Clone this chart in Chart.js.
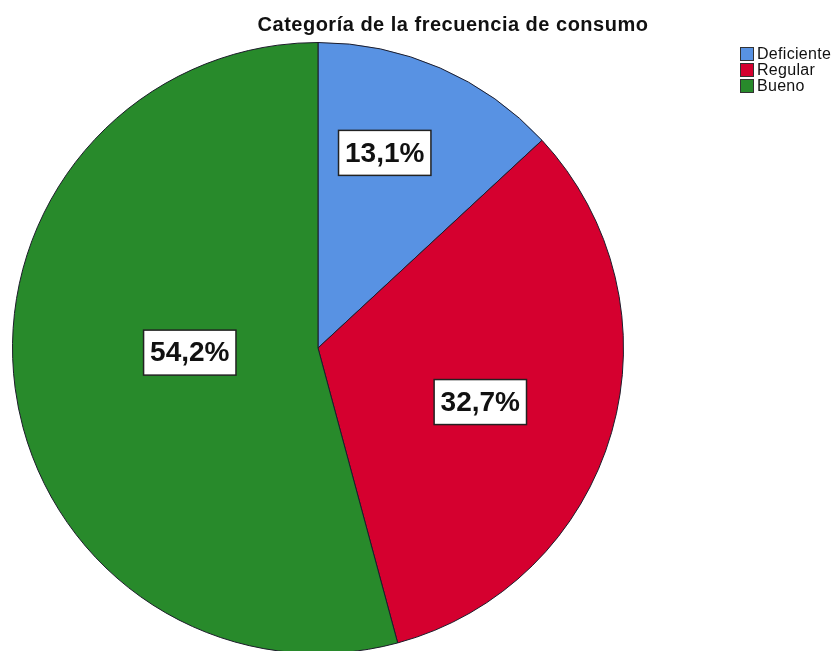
<!DOCTYPE html>
<html>
<head>
<meta charset="utf-8">
<script src="https://cdn.jsdelivr.net/npm/chart.js@4/dist/chart.umd.min.js"></script>
<style>
  html, body { margin: 0; padding: 0; background: #ffffff; overflow: hidden; width: 839px; height: 651px; }
  #wrap { position: relative; width: 839px; height: 651px; overflow: hidden; }
  #cv { position: absolute; left: 0; top: 0; }
  #title { position: absolute; left: 0; width: 906px; top: 13px; text-align: center;
           font: bold 20px "Liberation Sans", Arial, sans-serif; letter-spacing: 0.5px; color: #111; white-space: nowrap; }
  #legend { position: absolute; left: 740px; top: 46px; font: 16px "Liberation Sans", Arial, sans-serif; letter-spacing: 0.3px; color: #111; }
  .li { height: 16px; line-height: 16px; display: flex; align-items: center; white-space: nowrap; }
  .sw { width: 14px; height: 14px; border: 1px solid #333; box-sizing: border-box; margin-right: 3px; flex: none; }
</style>
</head>
<body>
<div id="wrap">
  <canvas id="cv" width="839" height="700"></canvas>
  <div id="title">Categoría de la frecuencia de consumo</div>
  <div id="legend"></div>
</div>
<script>
const categories = ["Deficiente", "Regular", "Bueno"];
const percentages = [13.1, 32.7, 54.2];
const sliceColors = ["#5892e3", "#d5002f", "#288a2b"];

// label placement style: [fraction of radius, angle offset in degrees from slice middle]
const labelPlacement = [[0.675, -4.7], [0.56, 2.4], [0.42, 5.5]];

const fmt = v => v.toFixed(1).replace('.', ',') + '%';

const boxLabels = {
  id: 'boxLabels',
  afterDatasetsDraw(chart) {
    const ctx = chart.ctx;
    const meta = chart.getDatasetMeta(0);
    ctx.save();
    ctx.font = 'bold 28px "Liberation Sans", Arial, sans-serif';
    ctx.textAlign = 'center';
    ctx.textBaseline = 'middle';
    meta.data.forEach((arc, i) => {
      const p = arc.getProps(['x', 'y', 'startAngle', 'endAngle', 'outerRadius'], true);
      const mid = (p.startAngle + p.endAngle) / 2 + labelPlacement[i][1] * Math.PI / 180;
      const r = p.outerRadius * labelPlacement[i][0];
      const cx = p.x + Math.cos(mid) * r;
      const cy = p.y + Math.sin(mid) * r;
      const txt = fmt(chart.data.datasets[0].data[i]);
      const w = ctx.measureText(txt).width + 13;
      const h = 45;
      ctx.fillStyle = '#ffffff';
      ctx.fillRect(cx - w / 2, cy - h / 2, w, h);
      ctx.lineWidth = 1.5;
      ctx.strokeStyle = '#222222';
      ctx.strokeRect(cx - w / 2, cy - h / 2, w, h);
      ctx.fillStyle = '#111111';
      ctx.fillText(txt, cx, cy + 1);
    });
    ctx.restore();
  }
};

const chart = new Chart(document.getElementById('cv'), {
  type: 'pie',
  data: {
    labels: categories,
    datasets: [{
      data: percentages,
      backgroundColor: sliceColors,
      borderColor: '#1c1c2a',
      borderWidth: 1
    }]
  },
  options: {
    responsive: false,
    animation: false,
    layout: { padding: { top: 42, left: 12, right: 215, bottom: 46 } },
    plugins: {
      legend: { display: false },
      title: { display: false },
      tooltip: { enabled: false }
    }
  },
  plugins: [boxLabels]
});

const legend = document.getElementById('legend');
categories.forEach((c, i) => {
  const row = document.createElement('div');
  row.className = 'li';
  const sw = document.createElement('span');
  sw.className = 'sw';
  sw.style.background = sliceColors[i];
  const t = document.createElement('span');
  t.textContent = c;
  row.appendChild(sw);
  row.appendChild(t);
  legend.appendChild(row);
});
</script>
</body>
</html>
